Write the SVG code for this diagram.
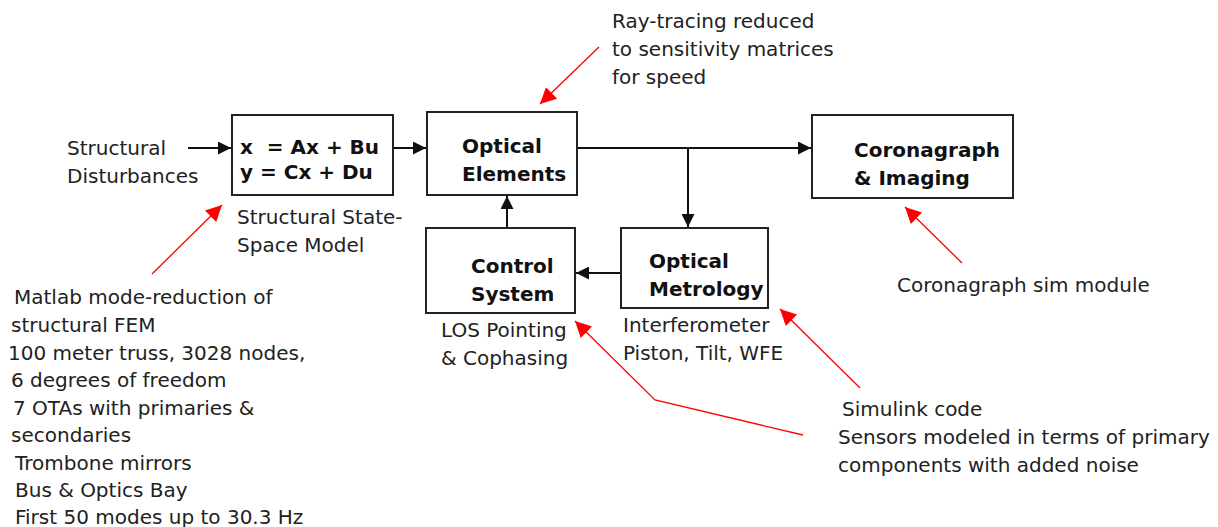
<svg xmlns="http://www.w3.org/2000/svg" width="1218" height="527" viewBox="0 0 1218 527">
<defs>
<style>
text{font-family:"DejaVu Sans","Liberation Sans",sans-serif;font-size:20px;fill:#222}
.b{font-weight:bold;fill:#111}
.box{fill:#fff;stroke:#222;stroke-width:2}
.con{fill:none;stroke:#111;stroke-width:2}
.red{fill:none;stroke:#f00;stroke-width:1.3}
</style>
<marker id="ah" viewBox="0 0 10 10" refX="10" refY="5" markerWidth="14" markerHeight="13" markerUnits="userSpaceOnUse" orient="auto"><path d="M0,0L10,5L0,10z" fill="#111"/></marker>
<marker id="rh" viewBox="0 0 10 10" refX="10" refY="5" markerWidth="18" markerHeight="16" markerUnits="userSpaceOnUse" orient="auto"><path d="M0,0L10,5L0,10z" fill="#f00"/></marker>
</defs>
<rect width="1218" height="527" fill="#fff"/>
<g id="connectors">
<line class="con" x1="188" y1="148" x2="231" y2="148" marker-end="url(#ah)"/>
<line class="con" x1="393" y1="148" x2="426" y2="148" marker-end="url(#ah)"/>
<line class="con" x1="577" y1="148" x2="811" y2="148" marker-end="url(#ah)"/>
<line class="con" x1="688" y1="148" x2="688" y2="227" marker-end="url(#ah)"/>
<line class="con" x1="621" y1="273" x2="576" y2="273" marker-end="url(#ah)"/>
<line class="con" x1="507" y1="228" x2="507" y2="196" marker-end="url(#ah)"/>
<polyline class="red" points="599,47 540,104" marker-end="url(#rh)"/>
<polyline class="red" points="152,274 222,205" marker-end="url(#rh)"/>
<polyline class="red" points="962,263 905,207" marker-end="url(#rh)"/>
<polyline class="red" points="803,435 655,400 575,321" marker-end="url(#rh)"/>
<polyline class="red" points="860,388 780,309" marker-end="url(#rh)"/>
</g>
<g id="disturbances">
<text x="67" y="155">Structural</text>
<text x="67" y="183">Disturbances</text>
</g>
<g id="statespace">
<rect class="box" x="232" y="115" width="161" height="80"/>
<text class="b" x="240" y="154" xml:space="preserve">x  = Ax + Bu</text>
<text class="b" x="240" y="179">y = Cx + Du</text>
<text x="237" y="224">Structural State-</text>
<text x="237" y="252">Space Model</text>
</g>
<g id="optical-elements">
<rect class="box" x="427" y="112" width="150" height="83"/>
<text class="b" x="462" y="153">Optical</text>
<text class="b" x="462" y="181">Elements</text>
</g>
<g id="coronagraph">
<rect class="box" x="812" y="115" width="201" height="83"/>
<text class="b" x="854" y="157">Coronagraph</text>
<text class="b" x="854" y="185">&amp; Imaging</text>
</g>
<g id="control-system">
<rect class="box" x="426" y="228" width="149" height="85"/>
<text class="b" x="471" y="273">Control</text>
<text class="b" x="471" y="301">System</text>
<text x="441" y="337">LOS Pointing</text>
<text x="441" y="365">&amp; Cophasing</text>
</g>
<g id="optical-metrology">
<rect class="box" x="621" y="228" width="147" height="80"/>
<text class="b" x="649" y="268">Optical</text>
<text class="b" x="649" y="296">Metrology</text>
<text x="623" y="332">Interferometer</text>
<text x="623" y="360">Piston, Tilt, WFE</text>
</g>
<g id="note-raytracing">
<text x="612" y="28">Ray-tracing reduced</text>
<text x="612" y="56">to sensitivity matrices</text>
<text x="612" y="84">for speed</text>
</g>
<g id="note-coronagraph">
<text x="897" y="292">Coronagraph sim module</text>
</g>
<g id="note-simulink">
<text x="842" y="416">Simulink code</text>
<text x="838" y="444">Sensors modeled in terms of primary</text>
<text x="838" y="472">components with added noise</text>
</g>
<g id="note-matlab">
<text x="14" y="304">Matlab mode-reduction of</text>
<text x="11" y="332">structural FEM</text>
<text x="8" y="360">100 meter truss, 3028 nodes,</text>
<text x="11" y="387">6 degrees of freedom</text>
<text x="13" y="415">7 OTAs with primaries &amp;</text>
<text x="11" y="442">secondaries</text>
<text x="15" y="470">Trombone mirrors</text>
<text x="15" y="497">Bus &amp; Optics Bay</text>
<text x="15" y="524">First 50 modes up to 30.3 Hz</text>
</g>
</svg>
